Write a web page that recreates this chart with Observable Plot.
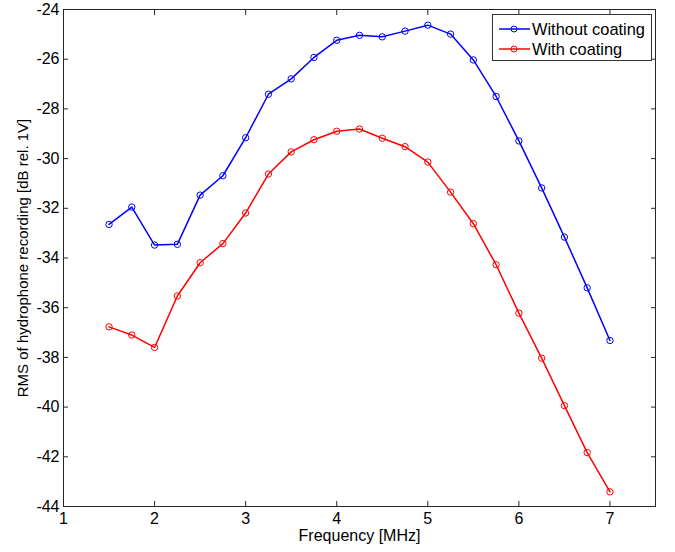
<!DOCTYPE html>
<html><head><meta charset="utf-8">
<script src="https://cdn.jsdelivr.net/npm/d3@7"></script>
<script src="https://cdn.jsdelivr.net/npm/@observablehq/plot@0.6"></script>
<style>
body{margin:0;background:#fff;font-family:"Liberation Sans",Arial,sans-serif;}
#chart{position:relative;width:675px;height:552px;}
#legend{position:absolute;left:492px;top:14px;width:158px;height:45px;border:1px solid #333;background:#fff;font-size:16.4px;color:#000;}
.lrow{position:absolute;left:0;height:20px;width:158px;}
.lrow svg{position:absolute;left:6px;top:0;}
.lrow span{position:absolute;left:39px;top:0px;line-height:20px;white-space:nowrap;}
</style></head><body>
<div id="chart"></div>
<script>
const frequency = [1.5,1.75,2,2.25,2.5,2.75,3,3.25,3.5,3.75,4,4.25,4.5,4.75,5,5.25,5.5,5.75,6,6.25,6.5,6.75,7];
const withoutCoating = [-32.65,-31.95,-33.48,-33.45,-31.47,-30.69,-29.16,-27.41,-26.79,-25.93,-25.24,-25.04,-25.10,-24.87,-24.63,-24.99,-26.03,-27.50,-29.29,-31.18,-33.16,-35.2,-37.32];
const withCoating = [-36.77,-37.1,-37.6,-35.53,-34.19,-33.42,-32.19,-30.62,-29.73,-29.24,-28.90,-28.81,-29.18,-29.52,-30.14,-31.35,-32.62,-34.27,-36.22,-38.03,-39.94,-41.83,-43.41];
const seriesNames = ["Without coating","With coating"];
const seriesColors = ["#0000ff","#ff0000"];
const xTicks = [1,2,3,4,5,6,7];
const yTicks = [-24,-26,-28,-30,-32,-34,-36,-38,-40,-42,-44];
const xLabel = "Frequency [MHz]";
const yLabel = "RMS of hydrophone recording [dB rel. 1V]";

const rows = [];
frequency.forEach((f,i)=>{
  rows.push({f, v: withoutCoating[i], s: seriesNames[0]});
  rows.push({f, v: withCoating[i], s: seriesNames[1]});
});

const axisColor = "#262626";
const plot = Plot.plot({
  width:675, height:552,
  marginLeft:63, marginRight:20, marginTop:9, marginBottom:46,
  style:{fontFamily:"'Liberation Sans', Arial, sans-serif", fontSize:"16px", color:"#000", background:"#fff"},
  x:{domain:[1,7.5]},
  y:{domain:[-44,-24]},
  color:{domain:seriesNames, range:seriesColors},
  marks:[
    Plot.frame({stroke:axisColor}),
    Plot.axisX(xTicks,{tickSize:-5, tickPadding:11, tickFormat:d=>String(d), stroke:axisColor, fontSize:16, label:xLabel, labelAnchor:"center", labelArrow:"none", labelOffset:34}),
    Plot.axisX(xTicks,{anchor:"top", tickSize:-5, tickFormat:()=>"", stroke:axisColor, label:null}),
    Plot.axisY(yTicks,{tickSize:-5, tickPadding:9, tickFormat:d=>String(d), stroke:axisColor, fontSize:16, label:null}),
    Plot.axisY(yTicks,{tickSize:0, tickFormat:()=>"", fontSize:15, label:yLabel, labelAnchor:"center", labelArrow:"none", labelOffset:46}),
    Plot.axisY(yTicks,{anchor:"right", tickSize:-5, tickFormat:()=>"", stroke:axisColor, label:null}),
    Plot.line(rows,{x:"f", y:"v", z:"s", stroke:"s", strokeWidth:1.5}),
    Plot.dot(rows,{x:"f", y:"v", stroke:"s", r:3.2, strokeWidth:1})
  ]
});
const chart = document.getElementById("chart");
chart.appendChild(plot);

const legend = document.createElement("div");
legend.id = "legend";
seriesNames.forEach((name,i)=>{
  const row = document.createElement("div");
  row.className = "lrow";
  row.style.top = (4 + i*20) + "px";
  row.innerHTML = `<svg width="32" height="20"><line x1="0" y1="10" x2="31" y2="10" stroke="${seriesColors[i]}" stroke-width="1.5"/><circle cx="15" cy="10" r="3" fill="none" stroke="${seriesColors[i]}" stroke-width="1"/></svg><span>${name}</span>`;
  legend.appendChild(row);
});
chart.appendChild(legend);
</script>
</body></html>
